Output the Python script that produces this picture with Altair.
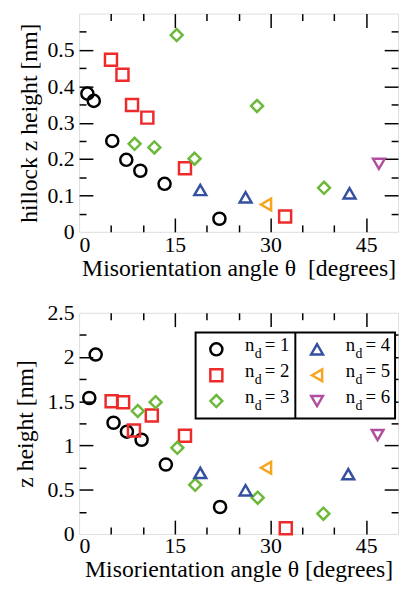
import altair as alt
import pandas as pd

# ---------------- data ----------------
series = ["1", "2", "3", "4", "5", "6"]
shapes = ["circle", "square", "diamond", "triangle-up", "triangle-left", "triangle-down"]
colors = ["#000000", "#ee2a2a", "#6cb83a", "#3450a0", "#f7a520", "#b04f9e"]
sizes = [150, 140, 190, 215, 215, 215]

# top panel: hillock z height [nm]
top_x = {
    "1": [1.3, 2.3, 5.2, 7.4, 9.6, 13.4, 22.0],
    "2": [5.0, 6.8, 8.3, 10.7, 16.6, 32.3],
    "3": [8.7, 11.8, 15.3, 18.1, 27.9, 38.4],
    "4": [19.0, 26.1, 42.4],
    "5": [29.3],
    "6": [47.0],
}
top_y = {
    "1": [0.380, 0.360, 0.250, 0.198, 0.168, 0.132, 0.036],
    "2": [0.473, 0.432, 0.349, 0.314, 0.175, 0.042],
    "3": [0.242, 0.232, 0.541, 0.201, 0.346, 0.121],
    "4": [0.115, 0.095, 0.106],
    "5": [0.075],
    "6": [0.187],
}

# bottom panel: z height [nm]
bot_x = {
    "1": [1.6, 2.6, 5.4, 7.5, 9.8, 13.6, 22.1],
    "2": [5.1, 6.9, 8.6, 11.4, 16.6, 32.4],
    "3": [9.2, 12.0, 15.4, 18.2, 28.0, 38.3],
    "4": [19.0, 26.1, 42.2],
    "5": [29.3],
    "6": [46.8],
}
bot_y = {
    "1": [1.537, 2.028, 1.257, 1.156, 1.065, 0.785, 0.305],
    "2": [1.50, 1.49, 1.17, 1.34, 1.11, 0.065],
    "3": [1.39, 1.49, 0.974, 0.556, 0.41, 0.229],
    "4": [0.69, 0.494, 0.676],
    "5": [0.749],
    "6": [1.119],
}

x_labels = [0, 15, 30, 45]
x_major = [15, 30, 45]
x_minor = [5, 10, 20, 25, 35, 40]

top_labels = [0, 0.1, 0.2, 0.3, 0.4, 0.5]
top_major = [0.1, 0.2, 0.3, 0.4, 0.5]
top_minor = [0.05, 0.15, 0.25, 0.35, 0.45, 0.55]

bot_labels = [0, 0.5, 1, 1.5, 2, 2.5]
bot_major = [0.5, 1, 1.5, 2]
bot_minor = [0.25, 0.75, 1.25, 1.75, 2.25]

FONT = "Liberation Serif"
W = 323


def frame(xs, ys):
    rows = []
    for s in series:
        for a, h in zip(xs[s], ys[s]):
            rows.append({"angle": a, "height": h, "nd": s})
    return pd.DataFrame(rows)


def tick_axis(orient, values, size):
    return alt.Axis(orient=orient, offset=-size, tickSize=size, values=values,
                    labels=False, domain=False, title=None, grid=False,
                    ticks=True, tickWidth=1.5, tickColor="black")


def panel(df, ydom, ylabels, ymajor, yminor, ytitle, xtitle, height, ytp,
          xlp, xtp, legend=False):
    xs = alt.Scale(domain=[0, 50], nice=False, zero=False)
    ys = alt.Scale(domain=ydom, nice=False, zero=False)
    base = alt.Chart(df)

    pts = base.mark_point(filled=False, strokeWidth=2.5, opacity=1).encode(
        x=alt.X("angle:Q", scale=xs, axis=alt.Axis(
            values=x_labels, ticks=False, tickSize=0, domain=False, grid=False,
            title=xtitle, labelPadding=xlp, titlePadding=xtp,
            labelFont=FONT, labelFontSize=22, titleFont=FONT, titleFontSize=24,
            titleFontWeight="normal", labelColor="black", titleColor="black")),
        y=alt.Y("height:Q", scale=ys, axis=alt.Axis(
            values=ylabels, format="~g", ticks=False, tickSize=0, domain=False,
            grid=False, title=ytitle, labelPadding=5, titlePadding=ytp,
            labelFont=FONT, labelFontSize=22, titleFont=FONT, titleFontSize=24,
            titleFontWeight="normal", labelColor="black", titleColor="black")),
        shape=alt.Shape("nd:N", scale=alt.Scale(domain=series, range=shapes), legend=None),
        color=alt.Color("nd:N", scale=alt.Scale(domain=series, range=colors), legend=None),
        size=alt.Size("nd:O", scale=alt.Scale(domain=series, range=sizes), legend=None),
    )

    def ghost(xax, yax):
        return base.mark_point(opacity=0).encode(
            x=alt.X("angle:Q", scale=xs, axis=xax),
            y=alt.Y("height:Q", scale=ys, axis=yax),
        )

    layers = [
        pts,
        ghost(tick_axis("bottom", x_major, 14), tick_axis("left", ymajor, 14)),
        ghost(tick_axis("bottom", x_minor, 7), tick_axis("left", yminor, 7)),
        ghost(tick_axis("top", x_major, 14), tick_axis("right", ymajor, 14)),
        ghost(tick_axis("top", x_minor, 7), tick_axis("right", yminor, 7)),
    ]

    if legend:
        bx1 = W - 3
        bx0 = bx1 - 202
        box = pd.DataFrame([{"x0": bx0, "x1": bx1, "y0": 20, "y1": 107}])
        layers.append(alt.Chart(box).mark_rect(fill="white", stroke="black", strokeWidth=2).encode(
            x=alt.X("x0:Q", scale=None), x2="x1:Q",
            y=alt.Y("y0:Q", scale=None), y2="y1:Q"))
        div = pd.DataFrame([{"x": bx0 + 101, "y0": 20, "y1": 107}])
        layers.append(alt.Chart(div).mark_rule(stroke="black", strokeWidth=2).encode(
            x=alt.X("x:Q", scale=None), y=alt.Y("y0:Q", scale=None), y2="y1:Q"))
        rows = []
        for i, s in enumerate(series):
            c, r = i // 3, i % 3
            rows.append({"nd": s, "sx": bx0 + 21 + 102 * c, "sy": 37 + 26.2 * r,
                         "tx": bx0 + 50 + 102 * c, "ty": 39 + 26.2 * r,
                         "n": "n", "d": "d", "eq": "= " + s})
        leg = pd.DataFrame(rows)
        lb = alt.Chart(leg)
        layers.append(lb.mark_point(filled=False, strokeWidth=2.5, opacity=1).encode(
            x=alt.X("sx:Q", scale=None), y=alt.Y("sy:Q", scale=None),
            shape=alt.Shape("nd:N", scale=alt.Scale(domain=series, range=shapes), legend=None),
            color=alt.Color("nd:N", scale=alt.Scale(domain=series, range=colors), legend=None),
            size=alt.Size("nd:O", scale=alt.Scale(domain=series, range=sizes), legend=None)))
        layers.append(lb.mark_text(font=FONT, fontSize=19, align="left", baseline="alphabetic",
                                   color="black").encode(
            x=alt.X("tx:Q", scale=None), y=alt.Y("ty:Q", scale=None), text="n:N"))
        layers.append(lb.mark_text(font=FONT, fontSize=14, align="left", baseline="alphabetic",
                                   color="black", dx=10, dy=7).encode(
            x=alt.X("tx:Q", scale=None), y=alt.Y("ty:Q", scale=None), text="d:N"))
        layers.append(lb.mark_text(font=FONT, fontSize=19, align="left", baseline="alphabetic",
                                   color="black", dx=20).encode(
            x=alt.X("tx:Q", scale=None), y=alt.Y("ty:Q", scale=None), text="eq:N"))

    return alt.layer(*layers).resolve_axis(x="independent", y="independent").properties(
        width=W, height=height)


top = panel(frame(top_x, top_y), [0, 0.6], top_labels, top_major, top_minor,
            "hillock z height [nm]", "Misorientation angle \u03b8\u00a0 [degrees]", 221, 6, 3, 1)
bottom = panel(frame(bot_x, bot_y), [0, 2.5], bot_labels, bot_major, bot_minor,
               "z height [nm]", "Misorientation angle \u03b8 [degrees]", 224, 10, 2, 1,
               legend=True)

chart = alt.vconcat(top, bottom, spacing=82, bounds="flush").properties(
    padding={"left": 5, "top": 0, "right": 0, "bottom": 0}
).configure_view(stroke="black", strokeWidth=2).configure(background="white")

chart.save("out.html", embed_options={"renderer": "svg", "actions": False})
